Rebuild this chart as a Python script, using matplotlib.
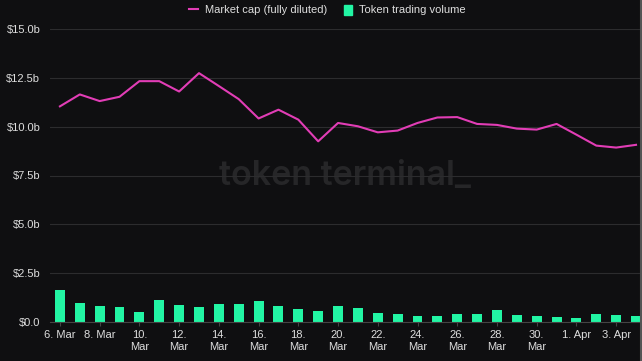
import matplotlib
matplotlib.use("Agg")
import matplotlib.pyplot as plt
from matplotlib.lines import Line2D
from matplotlib.patches import Patch

# dane z wykresu (mld USD)
dni = ["6. Mar", "7. Mar", "8. Mar", "9. Mar", "10.\nMar", "11. Mar", "12.\nMar", "13. Mar",
       "14.\nMar", "15. Mar", "16.\nMar", "17. Mar", "18.\nMar", "19. Mar", "20.\nMar", "21. Mar",
       "22.\nMar", "23. Mar", "24.\nMar", "25. Mar", "26.\nMar", "27. Mar", "28.\nMar", "29. Mar",
       "30.\nMar", "31. Mar", "1. Apr", "2. Apr", "3. Apr", "4. Apr"]
market_cap = [11.04, 11.65, 11.31, 11.53, 12.33, 12.33, 11.80, 12.74, 12.08, 11.41,
              10.42, 10.87, 10.36, 9.25, 10.19, 10.02, 9.71, 9.80, 10.19, 10.47,
              10.49, 10.14, 10.09, 9.90, 9.85, 10.14, 9.59, 9.03, 8.93, 9.07]
wolumen = [1.65, 0.97, 0.80, 0.75, 0.49, 1.14, 0.88, 0.75, 0.92, 0.92,
           1.06, 0.80, 0.66, 0.55, 0.80, 0.71, 0.46, 0.41, 0.32, 0.32,
           0.41, 0.41, 0.63, 0.38, 0.32, 0.27, 0.19, 0.41, 0.38, 0.32]
y_ticks = [0, 2.5, 5, 7.5, 10, 12.5, 15]
y_labels = ["$0.0", "$2.5b", "$5.0b", "$7.5b", "$10.0b", "$12.5b", "$15.0b"]

TLO = "#0f0f11"
ROZ = "#e23db6"
ZIE = "#22f5a4"
TEKST = "#dedede"

plt.rcParams["font.family"] = ["Liberation Sans Narrow", "Liberation Sans", "DejaVu Sans"]

fig = plt.figure(figsize=(6.42, 3.61), dpi=100, facecolor=TLO)
ax = fig.add_axes([50 / 642, 39 / 361, 590 / 642, 293 / 361])
ax.set_facecolor(TLO)

x = list(range(len(dni)))
ax.bar(x, wolumen, width=0.5, color=ZIE, zorder=2)
ax.plot(x, market_cap, color=ROZ, lw=1.5, zorder=3)

ax.set_xlim(-0.5, 29.2)
ax.set_ylim(0, 15)
ax.set_yticks(y_ticks)
ax.set_yticklabels(y_labels)
ax.set_xticks(x[::2])
ax.set_xticklabels(dni[::2], linespacing=1.35)
ax.tick_params(axis="y", length=0, pad=7, labelsize=8, labelcolor=TEKST)
ax.tick_params(axis="x", length=3, color="#444", pad=2.5, labelsize=8, labelcolor=TEKST)
ax.grid(axis="y", color="#2c2c2e", lw=0.8, zorder=0)
for s in ["top", "right", "left"]:
    ax.spines[s].set_visible(False)
ax.spines["bottom"].set_color("#444")

# znak wodny
ax.text(0.5, 0.5, "token terminal_", transform=ax.transAxes, ha="center", va="center",
        fontsize=24.5, fontweight="semibold", family="Inter", color="#262628", zorder=1)

# legenda
uchwyty = [Line2D([0], [0], color=ROZ, lw=1.5), Patch(color=ZIE)]
fig.legend(uchwyty, ["Market cap (fully diluted)", "Token trading volume"],
           loc="upper center", bbox_to_anchor=(0.51, 1.015), ncol=2, frameon=False,
           fontsize=8, labelcolor=TEKST, handlelength=0.8, handleheight=1.0,
           columnspacing=1.5, handletextpad=0.6)

# szara krawedz z prawej
fig.add_artist(Line2D([640.5 / 642, 640.5 / 642], [0, 1], color="#555", lw=1.5,
                      transform=fig.transFigure))

fig.savefig("out.png", dpi=100, facecolor=TLO)
